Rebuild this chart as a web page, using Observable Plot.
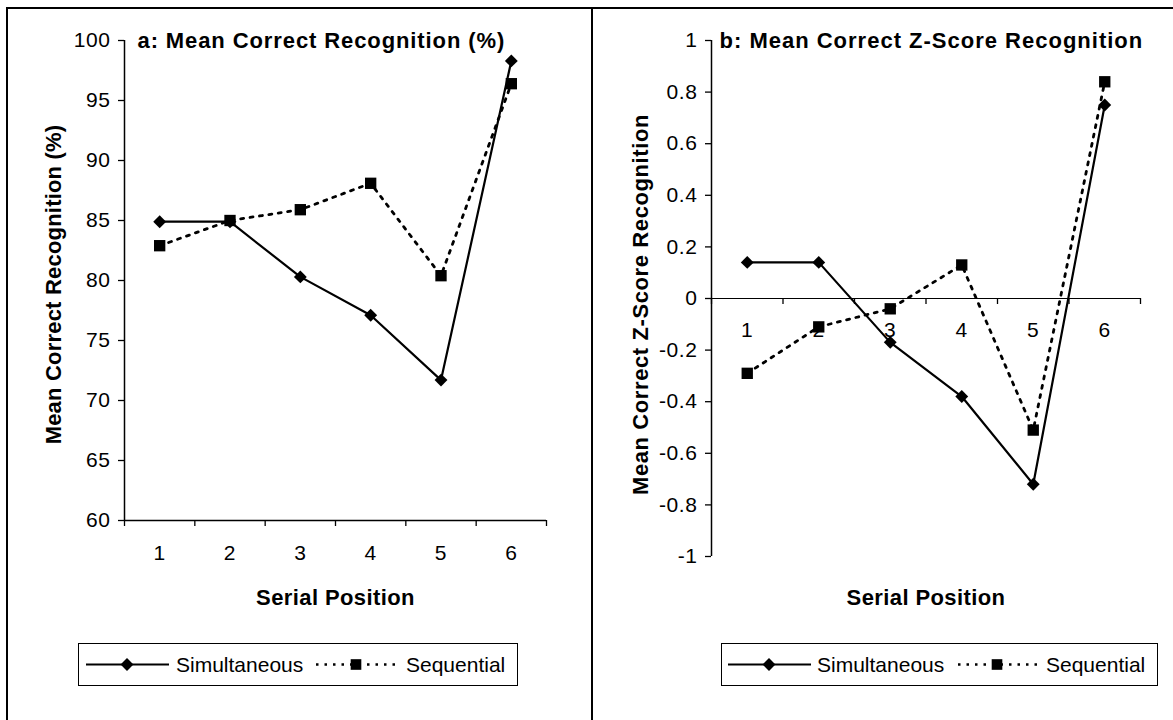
<!DOCTYPE html>
<html><head><meta charset="utf-8">
<script src="https://cdn.jsdelivr.net/npm/d3@7"></script>
<script src="https://cdn.jsdelivr.net/npm/@observablehq/plot@0.6"></script>
<style>
html,body{margin:0;padding:0;background:#fff;}
#root{position:relative;width:1173px;height:720px;overflow:hidden;background:#fff;font-family:"Liberation Sans",Arial,sans-serif;}
.abs{position:absolute;}
.legend{position:absolute;border:1.3px solid #000;box-sizing:border-box;background:#fff;}
</style></head>
<body><div id="root"></div>
<script>
// ---- data ----
const positions = [1, 2, 3, 4, 5, 6];
const seriesNames = ["Simultaneous", "Sequential"];
const simPct = [84.9, 84.9, 80.3, 77.1, 71.7, 98.3];
const seqPct = [82.9, 85.0, 85.9, 88.1, 80.4, 96.4];
const simZ = [0.14, 0.14, -0.17, -0.38, -0.72, 0.75];
const seqZ = [-0.29, -0.11, -0.04, 0.13, -0.51, 0.84];
const pctTicks = [60, 65, 70, 75, 80, 85, 90, 95, 100];
const zTicks = [-1, -0.8, -0.6, -0.4, -0.2, 0, 0.2, 0.4, 0.6, 0.8, 1];
const titleA = "a: Mean Correct Recognition (%)";
const titleB = "b: Mean Correct Z-Score Recognition";
const yLabelA = "Mean Correct Recognition (%)";
const yLabelB = "Mean Correct Z-Score Recognition";
const xLabel = "Serial Position";

const FONT = "'Liberation Sans', Arial, sans-serif";
const root = document.getElementById("root");

function rows(vals, name) { return positions.map((p, i) => ({pos: p, value: vals[i], series: name})); }
const bounds = positions.map(p => p - 0.5).concat([positions[positions.length - 1] + 0.5]);
const xDomain = [bounds[0], bounds[bounds.length - 1]];

function seriesMarks(simVals, seqVals) {
  const sim = rows(simVals, seriesNames[0]);
  const seq = rows(seqVals, seriesNames[1]);
  return [
    Plot.line(sim, {x: "pos", y: "value", stroke: "#000", strokeWidth: 2.2}),
    Plot.line(seq, {x: "pos", y: "value", stroke: "#000", strokeWidth: 2.8, strokeDasharray: "3,6.5"}),
    Plot.dot(sim, {x: "pos", y: "value", symbol: "diamond2", r: 5.8, fill: "#000", stroke: "none"}),
    Plot.dot(seq, {x: "pos", y: "value", symbol: "square", r: 6.4, fill: "#000", stroke: "none"})
  ];
}

function finish(svg) {
  const s = d3.select(svg);
  const spacing = {};
  spacing[titleA] = "0.9px"; spacing[titleB] = "1px";
  spacing[xLabel] = "0.4px"; spacing[yLabelA] = "0.2px"; spacing[yLabelB] = "0.6px";
  s.selectAll("text").each(function () {
    const t = this.textContent;
    if (spacing[t]) this.setAttribute("letter-spacing", spacing[t]);
    else if (/^[-0-9.]+$/.test(t)) this.setAttribute("letter-spacing", "0.6px");
  });
  return svg;
}

const textStyle = {fontSize: 22, fontWeight: "bold", lineAnchor: "middle", text: d => d};

// ---- panel a ----
const chartA = Plot.plot({
  width: 592, height: 720,
  marginLeft: 124, marginRight: 46, marginTop: 40, marginBottom: 200,
  x: {domain: xDomain, axis: null},
  y: {domain: [pctTicks[0], pctTicks[pctTicks.length - 1]], axis: null},
  style: {fontFamily: FONT, fontSize: "21px", background: "transparent", color: "#000", overflow: "visible"},
  marks: [
    Plot.ruleX([xDomain[0]], {stroke: "#000", strokeWidth: 1.5}),
    Plot.ruleY([pctTicks[0]], {stroke: "#000", strokeWidth: 1.5}),
    Plot.ruleX(bounds, {x: d => d, y1: pctTicks[0], y2: pctTicks[0], insetBottom: -6, stroke: "#000", strokeWidth: 1.3}),
    Plot.axisY({ticks: pctTicks, tickSize: 6, tickPadding: 8, tickFormat: d => String(d), label: null, strokeWidth: 1.3}),
    Plot.text(positions, {x: d => d, y: pctTicks[0], dy: 33, text: d => String(d), fontSize: 21, lineAnchor: "middle"}),
    ...seriesMarks(simPct, seqPct),
    Plot.text([titleA], {...textStyle, frameAnchor: "top-left", dx: 13, dy: 0.5, textAnchor: "start"}),
    Plot.text([yLabelA], {...textStyle, frameAnchor: "left", textAnchor: "middle", dx: -71, dy: 4, rotate: -90}),
    Plot.text([xLabel], {...textStyle, frameAnchor: "bottom", textAnchor: "middle", dy: 77})
  ]
});
finish(chartA);
chartA.style.position = "absolute"; chartA.style.left = "0px"; chartA.style.top = "0px";
root.appendChild(chartA);

// ---- panel b ----
const chartB = Plot.plot({
  width: 581, height: 720,
  marginLeft: 119, marginRight: 33, marginTop: 40, marginBottom: 164,
  x: {domain: xDomain, axis: null},
  y: {domain: [zTicks[0], zTicks[zTicks.length - 1]], axis: null},
  style: {fontFamily: FONT, fontSize: "21px", background: "transparent", color: "#000", overflow: "visible"},
  marks: [
    Plot.ruleX([xDomain[0]], {stroke: "#000", strokeWidth: 1.5}),
    Plot.ruleY([0], {stroke: "#000", strokeWidth: 1.1}),
    Plot.ruleX(bounds, {x: d => d, y1: 0, y2: 0, insetBottom: -6, stroke: "#000", strokeWidth: 1.3}),
    Plot.axisY({ticks: zTicks, tickSize: 6, tickPadding: 8, tickFormat: d => String(d), label: null, strokeWidth: 1.3}),
    Plot.text(positions, {x: d => d, y: 0, dy: 32, text: d => String(d), fontSize: 21, lineAnchor: "middle"}),
    ...seriesMarks(simZ, seqZ),
    Plot.text([titleB], {...textStyle, frameAnchor: "top-left", dx: 8, dy: 0.5, textAnchor: "start"}),
    Plot.text([yLabelB], {...textStyle, frameAnchor: "left", textAnchor: "middle", dx: -71, dy: 6, rotate: -90}),
    Plot.text([xLabel], {...textStyle, frameAnchor: "bottom", textAnchor: "middle", dy: 41})
  ]
});
finish(chartB);
chartB.style.position = "absolute"; chartB.style.left = "592px"; chartB.style.top = "0px";
root.appendChild(chartB);

// ---- panel frames ----
function line(l, t, w, h) {
  const d = document.createElement("div");
  d.className = "abs";
  Object.assign(d.style, {left: l + "px", top: t + "px", width: w + "px", height: h + "px", background: "#000"});
  root.appendChild(d);
}
line(6, 7, 1167, 2);
line(6, 7, 2, 713);
line(591, 7, 2, 713);

// ---- legends ----
function legend(left, top, w, layout) {
  const box = document.createElement("div");
  box.className = "legend";
  Object.assign(box.style, {left: left + "px", top: top + "px", width: w + "px", height: "43px"});
  const svg = d3.create("svg").attr("width", w).attr("height", 43)
    .style("position", "absolute").style("left", "-1px").style("top", "-1px")
    .style("font-family", FONT).style("font-size", "21px");
  const cy = 21.5;
  svg.append("line").attr("x1", layout.l1[0]).attr("x2", layout.l1[1]).attr("y1", cy).attr("y2", cy)
    .attr("stroke", "#000").attr("stroke-width", 2);
  svg.append("path").attr("d", d3.symbol(d3.symbolDiamond2, Math.PI * 5.8 * 5.8)())
    .attr("transform", `translate(${layout.m1},${cy})`).attr("fill", "#000");
  svg.append("text").attr("x", layout.t1).attr("y", cy).attr("dy", "0.35em").text(seriesNames[0]);
  svg.append("line").attr("x1", layout.l2[0]).attr("x2", layout.l2[1]).attr("y1", cy).attr("y2", cy)
    .attr("stroke", "#000").attr("stroke-width", 2.4).attr("stroke-dasharray", "2.5,6");
  svg.append("path").attr("d", d3.symbol(d3.symbolSquare, Math.PI * 6 * 6)())
    .attr("transform", `translate(${layout.m2},${cy})`).attr("fill", "#000");
  svg.append("text").attr("x", layout.t2).attr("y", cy).attr("dy", "0.35em").text(seriesNames[1]);
  box.appendChild(svg.node());
  root.appendChild(box);
}
legend(78, 643, 440, {l1: [8, 91], m1: 49, t1: 98, l2: [238, 318], m2: 278, t2: 328});
legend(721, 643, 437, {l1: [7, 90], m1: 48, t1: 96, l2: [237, 316], m2: 276, t2: 325});
</script>
</body></html>
